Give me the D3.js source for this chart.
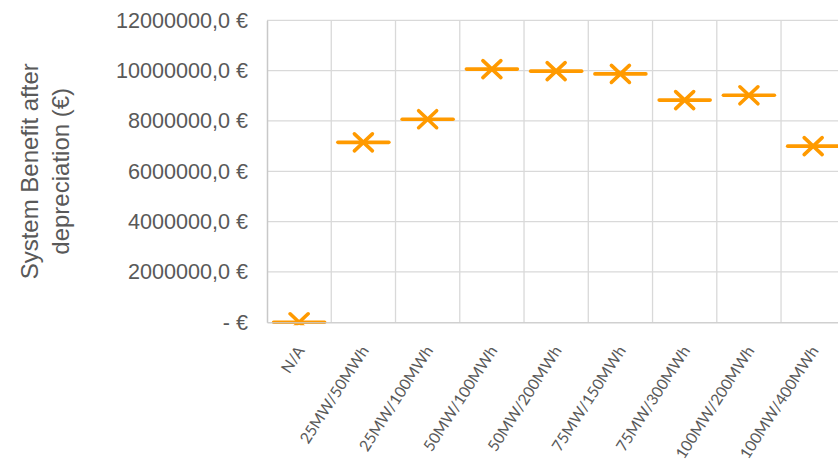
<!DOCTYPE html>
<html>
<head>
<meta charset="utf-8">
<script src="https://cdn.jsdelivr.net/npm/d3@7"></script>
<style>
  html, body { margin: 0; padding: 0; background: #fff; }
  svg { display: block; }
</style>
</head>
<body>
<svg id="chart" width="838" height="469"></svg>
<script>
// Storage configurations (power / energy)
const categories = ["N/A", "25MW/50MWh", "25MW/100MWh", "50MW/100MWh", "50MW/200MWh",
                    "75MW/150MWh", "75MW/300MWh", "100MW/200MWh", "100MW/400MWh"];
// System benefit after depreciation, in euro
const benefit = [0, 7150000, 8070000, 10060000, 9980000, 9870000, 8830000, 9020000, 7000000];
// Value axis ticks
const yTicks = [0, 2000000, 4000000, 6000000, 8000000, 10000000, 12000000];
const yTitleLines = ["System Benefit after", "depreciation (€)"];

const svg = d3.select("#chart");
const margin = { left: 267, top: 20.3 };
const plotW = 578.3, plotH = 302;

const x = d3.scaleBand().domain(categories).range([margin.left, margin.left + plotW]);
const y = d3.scaleLinear().domain([0, 12000000]).range([margin.top + plotH, margin.top]);

const fmt = v => v === 0 ? "- €" : d3.format("d")(v) + ",0 €";

// horizontal gridlines
svg.append("g")
  .selectAll("line").data(yTicks.slice(1)).join("line")
  .attr("x1", margin.left).attr("x2", margin.left + plotW)
  .attr("y1", d => y(d)).attr("y2", d => y(d))
  .attr("stroke", "#d9d9d9").attr("stroke-width", 1.3);

// vertical category separators
svg.append("g")
  .selectAll("line").data(categories.slice(1)).join("line")
  .attr("x1", d => x(d)).attr("x2", d => x(d))
  .attr("y1", margin.top).attr("y2", margin.top + plotH)
  .attr("stroke", "#d9d9d9").attr("stroke-width", 1.3);

// y axis labels
const yAxis = d3.axisLeft(y).tickValues(yTicks).tickFormat(fmt).tickSize(0).tickPadding(19);
const gy = svg.append("g").attr("transform", `translate(${margin.left},0)`).call(yAxis);
gy.select(".domain").attr("stroke", "#c8c8c8").attr("stroke-width", 1.5);
gy.selectAll("text")
  .attr("fill", "#595959")
  .style("font-family", "'Liberation Sans', Arial, sans-serif")
  .style("font-size", "21.6px");

// y axis title
const title = svg.append("text")
  .attr("transform", `translate(0,${margin.top + plotH / 2}) rotate(-90)`)
  .attr("text-anchor", "middle")
  .attr("fill", "#595959")
  .style("font-family", "'Liberation Sans', Arial, sans-serif")
  .style("font-size", "24px");
title.selectAll("tspan").data(yTitleLines).join("tspan")
  .attr("x", 0).attr("y", (d, i) => 37.5 + i * 31.5)
  .text(d => d);

// markers: dash + cross at each value, clipped to the plot area
svg.append("clipPath").attr("id", "plotClip")
  .append("rect")
  .attr("x", margin.left).attr("y", margin.top - 12)
  .attr("width", plotW).attr("height", plotH + 15);

const marks = svg.append("g").attr("clip-path", "url(#plotClip)")
  .selectAll("g").data(categories.map((c, i) => ({ c, v: benefit[i] }))).join("g")
  .attr("transform", d => `translate(${x(d.c) + x.bandwidth() / 2},${y(d.v)})`)
  .attr("stroke", "#ff9a00").attr("stroke-width", 3.6).attr("stroke-linecap", "round")
  .attr("fill", "none");
marks.append("line").attr("x1", -25.5).attr("x2", 25.5).attr("y1", 0).attr("y2", 0);
marks.append("line").attr("x1", -9).attr("x2", 9).attr("y1", -8.5).attr("y2", 8.5);
marks.append("line").attr("x1", -9).attr("x2", 9).attr("y1", 8.5).attr("y2", -8.5);

// category axis
const gx = svg.append("g").attr("transform", `translate(0,${margin.top + plotH})`)
  .call(d3.axisBottom(x).tickSize(0).tickPadding(0));
gx.select(".domain").attr("stroke", "#c8c8c8").attr("stroke-width", 1.5).attr("stroke-opacity", 0.85);
gx.selectAll(".tick text")
  .attr("fill", "#595959")
  .attr("text-anchor", "end")
  .attr("dy", null)
  .attr("y", 0)
  .attr("dominant-baseline", "central")
  .attr("transform", "translate(1,25) rotate(-57)")
  .style("font-family", "Lato, 'Open Sans', sans-serif")
  .style("font-size", "15.6px");
</script>
</body>
</html>
